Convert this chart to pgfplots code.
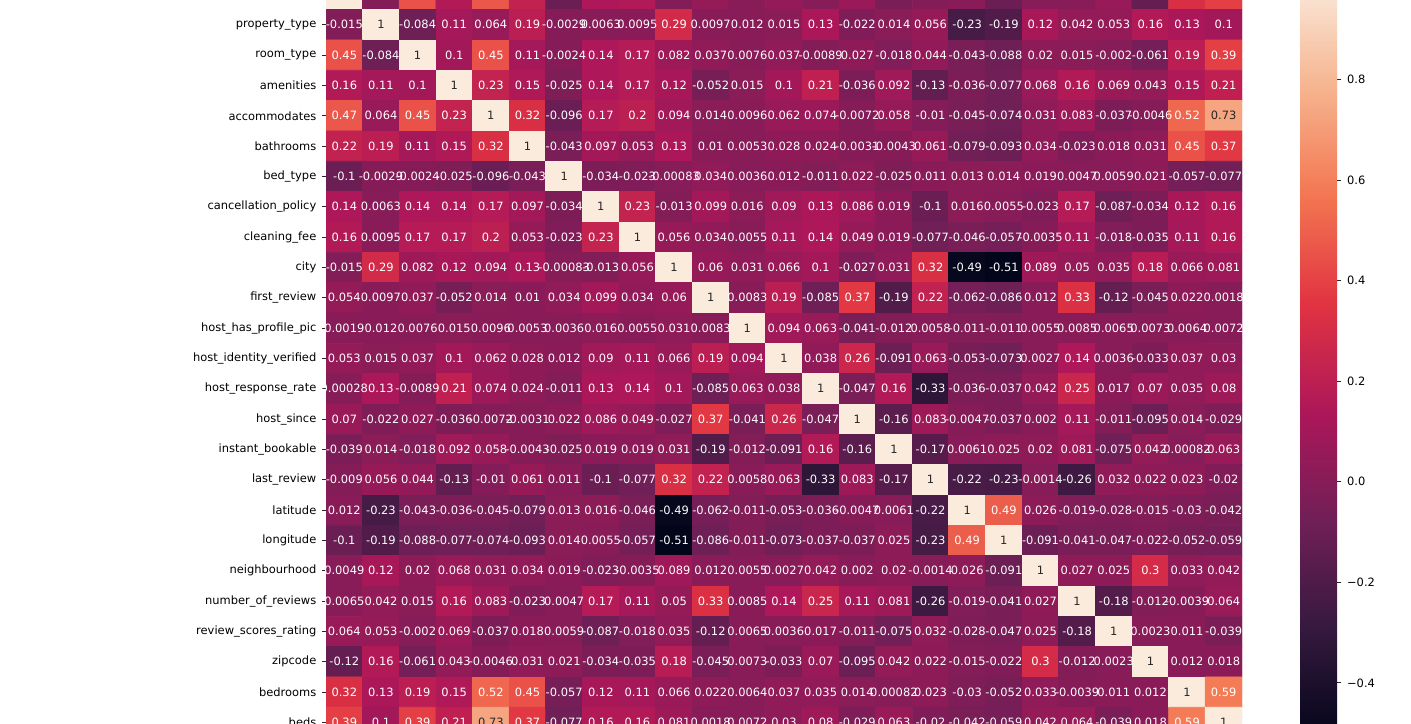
\documentclass[border=0pt]{standalone}
\usepackage{pgfplots}
\usepackage{pgfplotstable}
\pgfplotsset{compat=1.18}
\usepackage{fontspec}
\setmainfont{DejaVu Sans}
\definecolor{darktext}{HTML}{262626}
\definecolor{rk0}{RGB}{3,5,26}
\definecolor{rk1}{RGB}{53,25,62}
\definecolor{rk2}{RGB}{112,31,87}
\definecolor{rk3}{RGB}{173,23,89}
\definecolor{rk4}{RGB}{225,51,66}
\definecolor{rk5}{RGB}{243,118,81}
\definecolor{rk6}{RGB}{246,180,143}
\definecolor{rk7}{RGB}{250,235,221}
\pgfdeclareverticalshading{rocketsh}{100bp}{color(0bp)=(rk0); color(25bp)=(rk0); color(32.142857bp)=(rk1); color(39.285714bp)=(rk2); color(46.428571bp)=(rk3); color(53.571429bp)=(rk4); color(60.714286bp)=(rk5); color(67.857143bp)=(rk6); color(75bp)=(rk7); color(100bp)=(rk7)}
\pgfplotsset{
  /pgfplots/colormap={rocket}{
    rgb255(0)=(3,5,26) rgb255(1)=(53,25,62) rgb255(2)=(112,31,87)
    rgb255(3)=(173,23,89) rgb255(4)=(225,51,66) rgb255(5)=(243,118,81)
    rgb255(6)=(246,180,143) rgb255(7)=(250,235,221)}
}
\newcommand{\tfont}{\fontsize{5.73}{7}\selectfont}
% correlation matrix, row-major (25 x 25)
\pgfplotstableread[row sep=\\]{
v\\
1\\-0.015\\0.45\\0.16\\0.47\\0.22\\-0.1\\0.14\\0.16\\-0.015\\0.054\\0.0019\\0.053\\0.00028\\0.07\\-0.039\\-0.009\\0.012\\-0.1\\0.0049\\0.0065\\0.064\\-0.12\\0.32\\0.39\\
-0.015\\1\\-0.084\\0.11\\0.064\\0.19\\-0.0029\\0.0063\\0.0095\\0.29\\0.0097\\0.012\\0.015\\0.13\\-0.022\\0.014\\0.056\\-0.23\\-0.19\\0.12\\0.042\\0.053\\0.16\\0.13\\0.1\\
0.45\\-0.084\\1\\0.1\\0.45\\0.11\\-0.0024\\0.14\\0.17\\0.082\\0.037\\0.0076\\0.037\\-0.0089\\0.027\\-0.018\\0.044\\-0.043\\-0.088\\0.02\\0.015\\-0.002\\-0.061\\0.19\\0.39\\
0.16\\0.11\\0.1\\1\\0.23\\0.15\\-0.025\\0.14\\0.17\\0.12\\-0.052\\0.015\\0.1\\0.21\\-0.036\\0.092\\-0.13\\-0.036\\-0.077\\0.068\\0.16\\0.069\\0.043\\0.15\\0.21\\
0.47\\0.064\\0.45\\0.23\\1\\0.32\\-0.096\\0.17\\0.2\\0.094\\0.014\\0.0096\\0.062\\0.074\\-0.0072\\0.058\\-0.01\\-0.045\\-0.074\\0.031\\0.083\\-0.037\\-0.0046\\0.52\\0.73\\
0.22\\0.19\\0.11\\0.15\\0.32\\1\\-0.043\\0.097\\0.053\\0.13\\0.01\\0.0053\\0.028\\0.024\\-0.0031\\-0.0043\\0.061\\-0.079\\-0.093\\0.034\\-0.023\\0.018\\0.031\\0.45\\0.37\\
-0.1\\-0.0029\\-0.0024\\-0.025\\-0.096\\-0.043\\1\\-0.034\\-0.023\\-0.00083\\0.034\\0.0036\\0.012\\-0.011\\0.022\\-0.025\\0.011\\0.013\\0.014\\0.019\\0.0047\\0.0059\\0.021\\-0.057\\-0.077\\
0.14\\0.0063\\0.14\\0.14\\0.17\\0.097\\-0.034\\1\\0.23\\-0.013\\0.099\\0.016\\0.09\\0.13\\0.086\\0.019\\-0.1\\0.016\\0.0055\\-0.023\\0.17\\-0.087\\-0.034\\0.12\\0.16\\
0.16\\0.0095\\0.17\\0.17\\0.2\\0.053\\-0.023\\0.23\\1\\0.056\\0.034\\0.0055\\0.11\\0.14\\0.049\\0.019\\-0.077\\-0.046\\-0.057\\-0.0035\\0.11\\-0.018\\-0.035\\0.11\\0.16\\
-0.015\\0.29\\0.082\\0.12\\0.094\\0.13\\-0.00083\\-0.013\\0.056\\1\\0.06\\0.031\\0.066\\0.1\\-0.027\\0.031\\0.32\\-0.49\\-0.51\\0.089\\0.05\\0.035\\0.18\\0.066\\0.081\\
0.054\\0.0097\\0.037\\-0.052\\0.014\\0.01\\0.034\\0.099\\0.034\\0.06\\1\\0.0083\\0.19\\-0.085\\0.37\\-0.19\\0.22\\-0.062\\-0.086\\0.012\\0.33\\-0.12\\-0.045\\0.022\\0.0018\\
0.0019\\0.012\\0.0076\\0.015\\0.0096\\0.0053\\0.0036\\0.016\\0.0055\\0.031\\0.0083\\1\\0.094\\0.063\\-0.041\\-0.012\\0.0058\\-0.011\\-0.011\\0.0055\\0.0085\\0.0065\\0.0073\\0.0064\\0.0072\\
0.053\\0.015\\0.037\\0.1\\0.062\\0.028\\0.012\\0.09\\0.11\\0.066\\0.19\\0.094\\1\\0.038\\0.26\\-0.091\\0.063\\-0.053\\-0.073\\0.0027\\0.14\\0.0036\\-0.033\\0.037\\0.03\\
0.00028\\0.13\\-0.0089\\0.21\\0.074\\0.024\\-0.011\\0.13\\0.14\\0.1\\-0.085\\0.063\\0.038\\1\\-0.047\\0.16\\-0.33\\-0.036\\-0.037\\0.042\\0.25\\0.017\\0.07\\0.035\\0.08\\
0.07\\-0.022\\0.027\\-0.036\\-0.0072\\-0.0031\\0.022\\0.086\\0.049\\-0.027\\0.37\\-0.041\\0.26\\-0.047\\1\\-0.16\\0.083\\-0.0047\\-0.037\\0.002\\0.11\\-0.011\\-0.095\\0.014\\-0.029\\
-0.039\\0.014\\-0.018\\0.092\\0.058\\-0.0043\\-0.025\\0.019\\0.019\\0.031\\-0.19\\-0.012\\-0.091\\0.16\\-0.16\\1\\-0.17\\0.0061\\0.025\\0.02\\0.081\\-0.075\\0.042\\0.00082\\0.063\\
-0.009\\0.056\\0.044\\-0.13\\-0.01\\0.061\\0.011\\-0.1\\-0.077\\0.32\\0.22\\0.0058\\0.063\\-0.33\\0.083\\-0.17\\1\\-0.22\\-0.23\\-0.0014\\-0.26\\0.032\\0.022\\0.023\\-0.02\\
0.012\\-0.23\\-0.043\\-0.036\\-0.045\\-0.079\\0.013\\0.016\\-0.046\\-0.49\\-0.062\\-0.011\\-0.053\\-0.036\\-0.0047\\0.0061\\-0.22\\1\\0.49\\0.026\\-0.019\\-0.028\\-0.015\\-0.03\\-0.042\\
-0.1\\-0.19\\-0.088\\-0.077\\-0.074\\-0.093\\0.014\\0.0055\\-0.057\\-0.51\\-0.086\\-0.011\\-0.073\\-0.037\\-0.037\\0.025\\-0.23\\0.49\\1\\-0.091\\-0.041\\-0.047\\-0.022\\-0.052\\-0.059\\
0.0049\\0.12\\0.02\\0.068\\0.031\\0.034\\0.019\\-0.023\\-0.0035\\0.089\\0.012\\0.0055\\0.0027\\0.042\\0.002\\0.02\\-0.0014\\0.026\\-0.091\\1\\0.027\\0.025\\0.3\\0.033\\0.042\\
0.0065\\0.042\\0.015\\0.16\\0.083\\-0.023\\0.0047\\0.17\\0.11\\0.05\\0.33\\0.0085\\0.14\\0.25\\0.11\\0.081\\-0.26\\-0.019\\-0.041\\0.027\\1\\-0.18\\-0.012\\-0.0039\\0.064\\
0.064\\0.053\\-0.002\\0.069\\-0.037\\0.018\\0.0059\\-0.087\\-0.018\\0.035\\-0.12\\0.0065\\0.0036\\0.017\\-0.011\\-0.075\\0.032\\-0.028\\-0.047\\0.025\\-0.18\\1\\0.0023\\0.011\\-0.039\\
-0.12\\0.16\\-0.061\\0.043\\-0.0046\\0.031\\0.021\\-0.034\\-0.035\\0.18\\-0.045\\0.0073\\-0.033\\0.07\\-0.095\\0.042\\0.022\\-0.015\\-0.022\\0.3\\-0.012\\0.0023\\1\\0.012\\0.018\\
0.32\\0.13\\0.19\\0.15\\0.52\\0.45\\-0.057\\0.12\\0.11\\0.066\\0.022\\0.0064\\0.037\\0.035\\0.014\\0.00082\\0.023\\-0.03\\-0.052\\0.033\\-0.0039\\0.011\\0.012\\1\\0.59\\
0.39\\0.1\\0.39\\0.21\\0.73\\0.37\\-0.077\\0.16\\0.16\\0.081\\0.0018\\0.0072\\0.03\\0.08\\-0.029\\0.063\\-0.02\\-0.042\\-0.059\\0.042\\0.064\\-0.039\\0.018\\0.59\\1\\
}\corr
\pgfplotsset{
  celllabels/.style={only marks, mark=*, mark size=0pt, mark options={draw=none, fill=none},
    point meta=explicit symbolic,
    nodes near coords={\pgfplotspointmeta},
    nodes near coords align=center,
    every node near coord/.append style={font=\tfont, inner sep=0pt, anchor=center, text=#1}},
}
\begin{document}
\begin{tikzpicture}
\useasboundingbox (0,0) rectangle (705.5pt,361.5pt);
\clip (0,0) rectangle (705.5pt,361.5pt);
\fill[white] (0,0) rectangle (705.5pt,361.5pt);
\begin{axis}[
  at={(163pt,-7.3pt)}, anchor=south west,
  scale only axis, width=458pt, height=379.15pt,
  xmin=-0.5, xmax=24.5, ymin=-0.5, ymax=24.5,
  y dir=reverse,
  axis line style={draw=none},
  xtick=\empty,
  ytick={0,...,24},
  yticklabels={log\_price,property\_type,room\_type,amenities,accommodates,bathrooms,bed\_type,cancellation\_policy,cleaning\_fee,city,first\_review,host\_has\_profile\_pic,host\_identity\_verified,host\_response\_rate,host\_since,instant\_bookable,last\_review,latitude,longitude,neighbourhood,number\_of\_reviews,review\_scores\_rating,zipcode,bedrooms,beds},
  ytick pos=left,
  tick align=outside,
  major tick length=2.15pt,
  ytick style={draw=black!85, line width=0.46pt},
  yticklabel style={font=\tfont, inner sep=0pt, anchor=east, xshift=-2.5pt},
  colormap name=rocket,
  point meta min=-0.509, point meta max=1,
]
\addplot[matrix plot*, mesh/cols=25, mesh/rows=25, point meta=explicit]
  table[x index=0, y index=0, x expr={\coordindex-25*floor((\coordindex+0.5)/25)}, y expr={floor((\coordindex+0.5)/25)}, meta=v] {\corr};
\addplot[celllabels=white, restrict expr to domain={\thisrow{v}}{-1:0.7}]
  table[x index=0, y index=0, x expr={\coordindex-25*floor((\coordindex+0.5)/25)}, y expr={floor((\coordindex+0.5)/25)}, meta=v] {\corr};
\addplot[celllabels=darktext, restrict expr to domain={\thisrow{v}}{0.7:1.1}]
  table[x index=0, y index=0, x expr={\coordindex-25*floor((\coordindex+0.5)/25)}, y expr={floor((\coordindex+0.5)/25)}, meta=v] {\corr};
\end{axis}
% colorbar
\begin{axis}[
  at={(650pt,-7.3pt)}, anchor=south west,
  scale only axis, width=18.5pt, height=379.15pt,
  xmin=0, xmax=1, ymin=-0.509, ymax=1,
  axis line style={draw=none},
  xtick=\empty,
  ytick={-0.4,-0.2,0,0.2,0.4,0.6,0.8},
  yticklabels={−0.4,−0.2,0.0,0.2,0.4,0.6,0.8},
  ytick pos=right,
  yticklabel pos=right,
  tick align=outside,
  major tick length=2.15pt,
  ytick style={draw=black!85, line width=0.46pt},
  yticklabel style={font=\tfont, inner sep=0pt, anchor=west, xshift=2.7pt},
]
\fill[shading=rocketsh] (axis cs:0,-0.509) rectangle (axis cs:1,1);
\end{axis}
\end{tikzpicture}
\end{document}
